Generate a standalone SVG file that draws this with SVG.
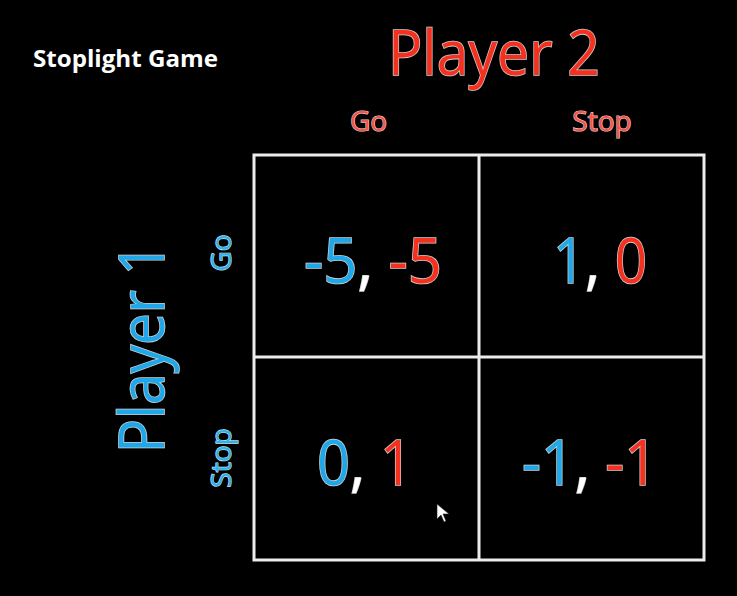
<svg xmlns="http://www.w3.org/2000/svg" width="737" height="596" viewBox="0 0 737 596">
  <style>
    text { font-family: "Open Sans", "Noto Sans", "Liberation Sans", sans-serif; }
    .title { fill: #ffffff; font-weight: bold; font-size: 24px; }
    .big { font-size: 62px; paint-order: stroke; stroke: #f2f2f2; stroke-width: 1.6px; stroke-opacity: 0.85; }
    .red { fill: #f5301e; }
    .blue { fill: #1ea8ea; }
    .comma { fill: #ffffff; }
    .hdr { font-size: 28px; paint-order: stroke; stroke: #fbdcd8; stroke-width: 1.2px; }
    .hred { fill: #f0574c; stroke: #f7c6c0; }
    .hblue { fill: #2eb0ea; stroke: #c6e8f7; }
    .grid { fill: none; stroke: #ececec; stroke-width: 3; }
  </style>
  <rect x="0" y="0" width="737" height="596" fill="#000000"/>

  <g id="title">
    <text class="title" x="33" y="67" textLength="185" lengthAdjust="spacingAndGlyphs">Stoplight Game</text>
  </g>

  <g id="player2">
    <text class="big red" x="388" y="75" textLength="212" lengthAdjust="spacingAndGlyphs">Player 2</text>
  </g>
  <g id="p2-go">
    <text class="hdr hred" x="368.5" y="131" text-anchor="middle">Go</text>
  </g>
  <g id="p2-stop">
    <text class="hdr hred" x="602" y="131" text-anchor="middle">Stop</text>
  </g>

  <g id="player1">
    <text class="big blue" transform="translate(164,348) rotate(-90)" x="0" y="0" text-anchor="middle" textLength="210" lengthAdjust="spacingAndGlyphs">Player 1</text>
  </g>
  <g id="p1-go">
    <text class="hdr hblue" transform="translate(231,253) rotate(-90)" x="0" y="0" text-anchor="middle">Go</text>
  </g>
  <g id="p1-stop">
    <text class="hdr hblue" transform="translate(231,458) rotate(-90)" x="0" y="0" text-anchor="middle">Stop</text>
  </g>

  <g id="grid">
    <rect class="grid" x="254" y="155" width="450" height="405"/>
    <line class="grid" x1="479" y1="155" x2="479" y2="560"/>
    <line class="grid" x1="254" y1="357" x2="704" y2="357"/>
  </g>

  <g id="cell-go-go">
    <text class="big" x="373" y="283" text-anchor="middle" textLength="138" lengthAdjust="spacingAndGlyphs"><tspan class="blue">-5</tspan><tspan class="comma">, </tspan><tspan class="red">-5</tspan></text>
  </g>
  <g id="cell-go-stop">
    <text class="big" x="600" y="283" text-anchor="middle" textLength="94" lengthAdjust="spacingAndGlyphs"><tspan class="blue">1</tspan><tspan class="comma">, </tspan><tspan class="red">0</tspan></text>
  </g>
  <g id="cell-stop-go">
    <text class="big" x="365" y="485" text-anchor="middle" textLength="96" lengthAdjust="spacingAndGlyphs"><tspan class="blue">0</tspan><tspan class="comma">, </tspan><tspan class="red">1</tspan></text>
  </g>
  <g id="cell-stop-stop">
    <text class="big" x="590" y="485" text-anchor="middle" textLength="136" lengthAdjust="spacingAndGlyphs"><tspan class="blue">-1</tspan><tspan class="comma">, </tspan><tspan class="red">-1</tspan></text>
  </g>

  <g id="cursor">
    <polygon points="437,504 437,519 441,515 444,522 446,521 443,514 449,514" fill="#ffffff" stroke="#222" stroke-width="0.6"/>
  </g>
</svg>
